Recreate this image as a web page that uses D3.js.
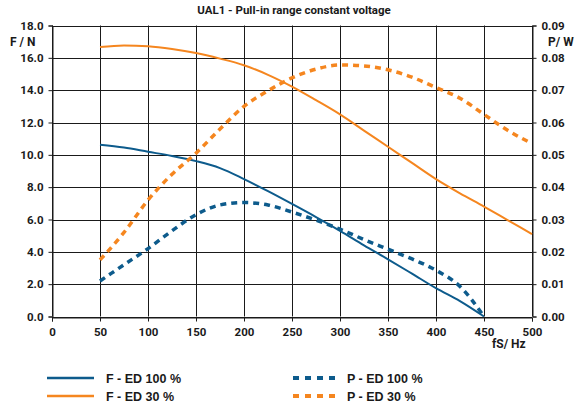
<!DOCTYPE html>
<html><head><meta charset="utf-8">
<script src="https://cdn.jsdelivr.net/npm/d3@7"></script>
<style>body{margin:0;background:#fff}svg{display:block}</style>
</head><body>
<script>
const title = "UAL1 - Pull-in range constant voltage";
const freq = [50,75,100,125,150,175,200,225,250,275,300,325,350,375,400,425,450,475,500];
const fEd30 = [16.67,16.77,16.72,16.55,16.3,15.95,15.54,14.95,14.22,13.38,12.5,11.5,10.5,9.5,8.5,7.62,6.8,5.95,5.1];
const fEd100 = [10.62,10.45,10.19,9.93,9.61,9.18,8.5,7.75,6.96,6.15,5.3,4.4,3.54,2.65,1.75,0.95,0];
const pEd100 = [0.011,0.016,0.021,0.0265,0.0315,0.0345,0.03525,0.0345,0.0323,0.0298,0.027,0.0238,0.0208,0.0178,0.0143,0.0093,0];
const pEd30 = [0.0175,0.026,0.036,0.044,0.0505,0.058,0.065,0.0698,0.0738,0.0765,0.0778,0.0775,0.0763,0.074,0.0708,0.0675,0.0625,0.0575,0.0535];
const xTicks = [0,50,100,150,200,250,300,350,400,450,500];
const yLeftTicks = [0,2,4,6,8,10,12,14,16,18];
const yRightTicks = [0,0.01,0.02,0.03,0.04,0.05,0.06,0.07,0.08,0.09];
const seriesNames = ["F - ED 100 %","F - ED 30 %","P - ED 100 %","P - ED 30 %"];

const W=575,H=406;
const blue="#0d5b8c", orange="#f5861f";
const svg=d3.select("body").append("svg").attr("width",W).attr("height",H);
const x=d3.scaleLinear().domain([0,500]).range([52,532]);
const yL=d3.scaleLinear().domain([0,18]).range([316.5,25.5]);
const yR=d3.scaleLinear().domain([0,0.09]).range([316.5,25.5]);
const font="Roboto, 'DejaVu Sans', sans-serif";

// grid
const g=svg.append("g");
g.selectAll(".hg").data(yLeftTicks).join("line")
  .attr("x1",x(0)).attr("x2",x(500)).attr("y1",d=>Math.round(yL(d))+0.5).attr("y2",d=>Math.round(yL(d))+0.5)
  .attr("stroke","#1a1a1a").attr("stroke-width",1);
g.selectAll(".vg").data(xTicks).join("line")
  .attr("y1",yL(0)).attr("y2",yL(18)).attr("x1",d=>Math.round(x(d))+0.5).attr("x2",d=>Math.round(x(d))+0.5)
  .attr("stroke","#1a1a1a").attr("stroke-width",1);

// axes
const ax=svg.append("g").attr("transform",`translate(0,${Math.round(yL(0))+0.5})`)
  .call(d3.axisBottom(x).tickValues(xTicks).tickSize(4).tickPadding(4).tickFormat(d3.format("d")));
const ayl=svg.append("g").attr("transform",`translate(${Math.round(x(0))+0.5},0)`)
  .call(d3.axisLeft(yL).tickValues(yLeftTicks).tickSize(4).tickPadding(5).tickFormat(d3.format(".1f")));
const ayr=svg.append("g").attr("transform",`translate(${Math.round(x(500))+0.5},0)`)
  .call(d3.axisRight(yR).tickValues(yRightTicks).tickSize(4).tickPadding(5).tickFormat(d3.format(".2f")));
[ax,ayl,ayr].forEach(a=>{
  a.select(".domain").attr("stroke","#1a1a1a");
  a.selectAll(".tick line").attr("stroke","#1a1a1a");
  a.selectAll("text").attr("font-family",font).attr("font-weight","bold").attr("font-size",11.5).attr("fill","#1a1a1a");
});
ax.selectAll("text").attr("dy","0.9em");

// lines
const line=(ys,sc)=>d3.line().x((d,i)=>x(freq[i])).y(d=>sc(d)).curve(d3.curveMonotoneX)(ys);
svg.append("path").attr("d",line(fEd30,yL)).attr("fill","none").attr("stroke",orange).attr("stroke-width",2);
svg.append("path").attr("d",line(fEd100,yL)).attr("fill","none").attr("stroke",blue).attr("stroke-width",2);
svg.append("path").attr("d",line(pEd100,yR)).attr("fill","none").attr("stroke",blue).attr("stroke-width",3.5).attr("stroke-dasharray","6,5");
svg.append("path").attr("d",line(pEd30,yR)).attr("fill","none").attr("stroke",orange).attr("stroke-width",3.5).attr("stroke-dasharray","6,5");

// texts
svg.append("text").attr("x",294).attr("y",14).attr("text-anchor","middle").attr("font-family",font)
  .attr("font-weight","bold").attr("font-size",11.5).attr("fill","#1a1a1a").text(title);
svg.append("text").attr("x",10).attr("y",46).attr("font-family",font).attr("font-weight","bold").attr("font-size",12).attr("fill","#1a1a1a").text("F / N");
svg.append("text").attr("x",548).attr("y",46).attr("font-family",font).attr("font-weight","bold").attr("font-size",12).attr("fill","#1a1a1a").text("P/ W");
svg.append("text").attr("x",492).attr("y",348).attr("font-family",font).attr("font-weight","bold").attr("font-size",12).attr("fill","#1a1a1a").text("fS/ Hz");

// legend
const leg=[
  {name:seriesNames[0],c:blue,dash:null,x:47,y:378},
  {name:seriesNames[1],c:orange,dash:null,x:47,y:396},
  {name:seriesNames[2],c:blue,dash:"6,6",x:293,y:378},
  {name:seriesNames[3],c:orange,dash:"6,6",x:293,y:396}];
leg.forEach(l=>{
  svg.append("line").attr("x1",l.x).attr("x2",l.x+(l.dash?44:47)).attr("y1",l.y).attr("y2",l.y)
    .attr("stroke",l.c).attr("stroke-width",l.dash?4:2.5).attr("stroke-dasharray",l.dash);
  svg.append("text").attr("x",l.x+(l.dash?54:59)).attr("y",l.y+4.5).attr("font-family","'Liberation Sans', Arial, sans-serif")
    .attr("font-weight","bold").attr("font-size",12.5).attr("fill","#1a1a1a").text(l.name);
});
</script>
</body></html>
